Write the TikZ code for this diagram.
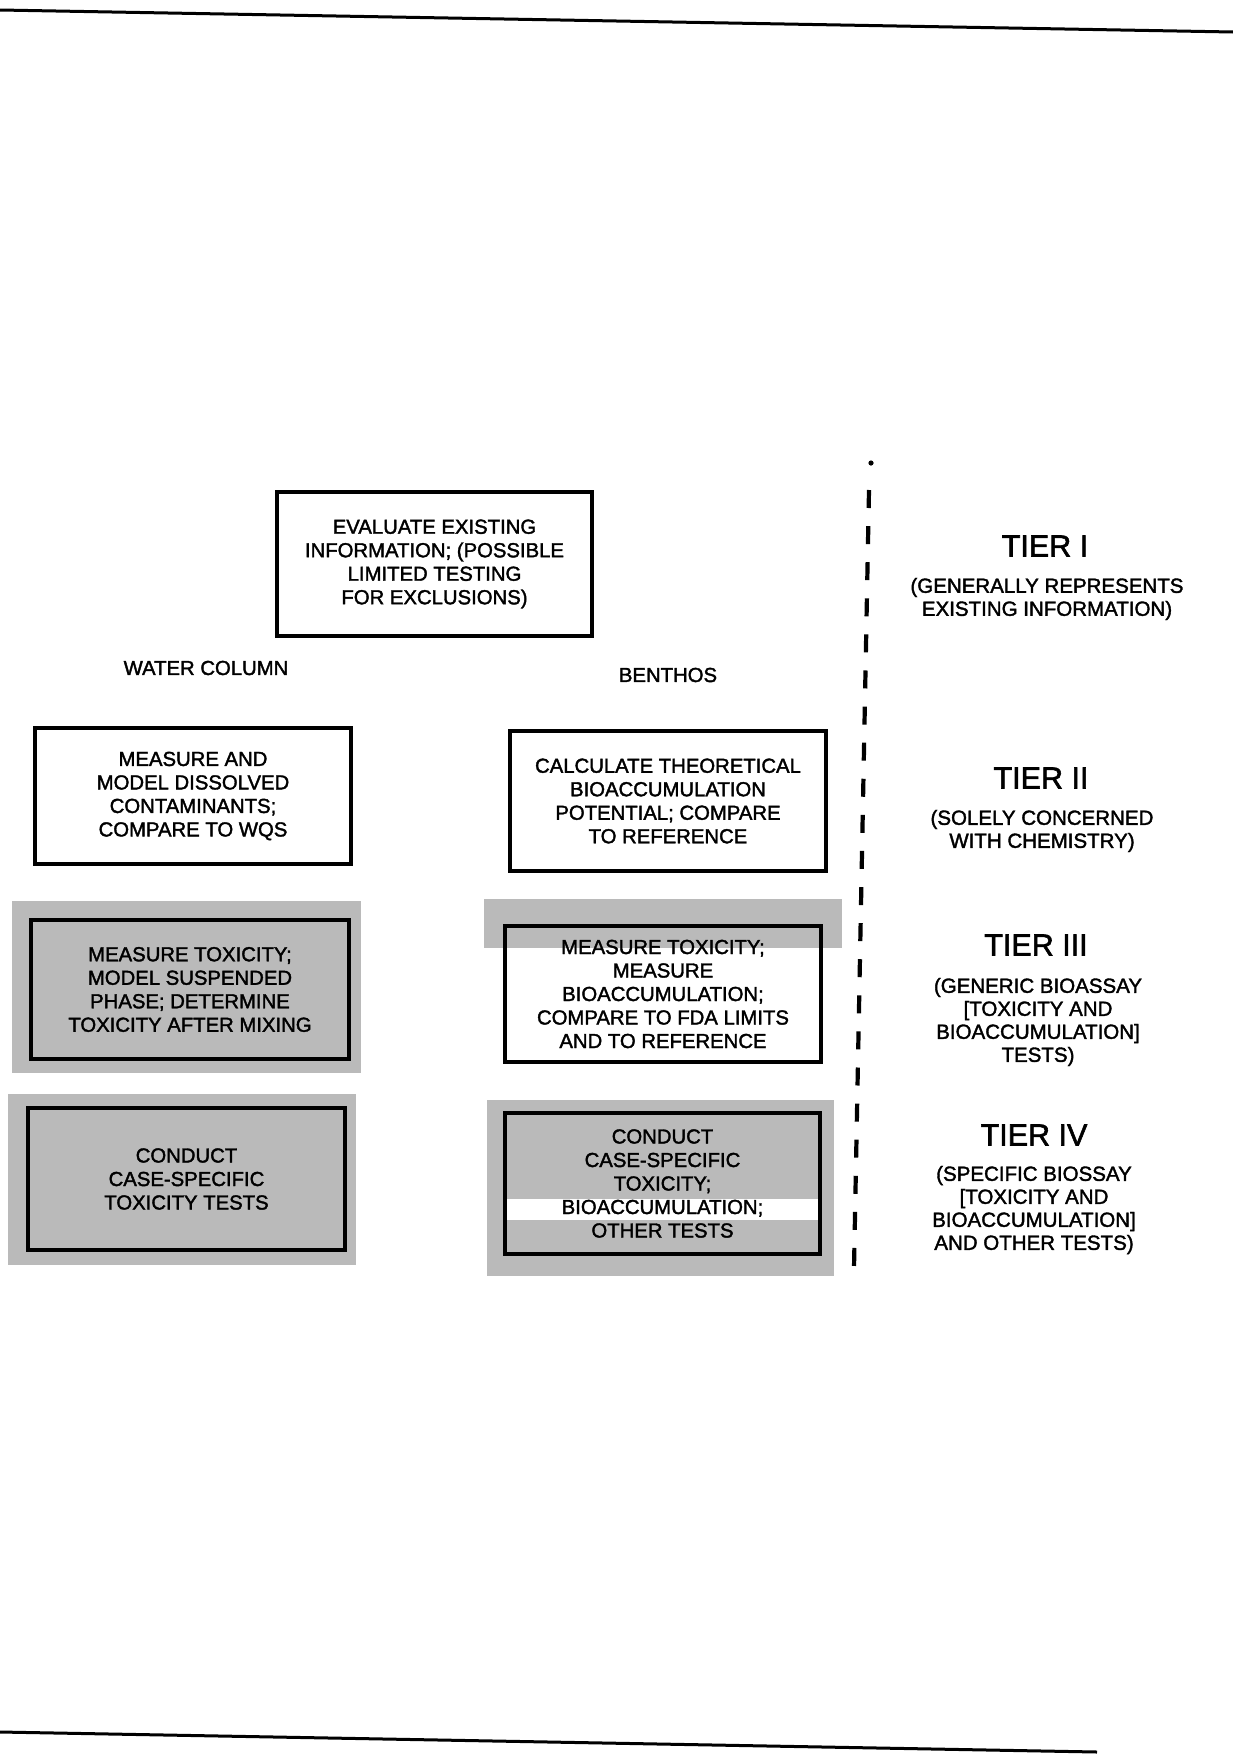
\documentclass[tikz,border=0pt]{standalone}
\usepackage{fontspec}
\setmainfont{Liberation Sans}[FakeBold=1.8]
\definecolor{screen}{rgb}{0.73,0.73,0.73}
\begin{document}
\begin{tikzpicture}[x=1pt,y=-1pt,
  box/.style={draw=black,line width=3.2pt,align=center,inner sep=0pt,
    font=\fontsize{20.3}{23.5}\selectfont,minimum width=316pt},
  tier/.style={font=\fontsize{30.5}{34}\selectfont,inner sep=0pt},
  tierdesc/.style={align=center,inner sep=0pt,font=\fontsize{20.5}{23}\selectfont},
  column/.style={inner sep=0pt,font=\fontsize{20.3}{23.5}\selectfont},
  screenfill/.style={fill=screen,draw=none},
  rule/.style={line width=3pt,black}]
\useasboundingbox (0,0) rectangle (1233,1754);

% page rules
\coordinate (tl) at (0,10);
\coordinate (tr) at (1233,32);
\coordinate (bl) at (0,1732);
\coordinate (br) at (1097,1752);
\draw[rule] (tl) -- (tr);
\draw[rule] (bl) -- (br);

% halftone screens behind tiers III and IV
\fill[screenfill] (12,901) rectangle (361,1073);
\fill[screenfill] (484,899) rectangle (842,948);
\fill[screenfill] (8,1094) rectangle (356,1265);
\fill[screenfill] (487,1100) rectangle (834,1276);
\fill[white] (507,1199) rectangle (819,1220);

% tier I
\node[box,minimum width=315pt,minimum height=144pt] (evaluate) at (434.5,564)
  {EVALUATE EXISTING\\INFORMATION; (POSSIBLE\\LIMITED TESTING\\FOR EXCLUSIONS)};

% column headings
\node[column] (water) at (206,668) {WATER COLUMN};
\node[column] (benthos) at (668,675) {BENTHOS};

% tier II
\node[box,minimum height=136pt] (dissolved) at (193,796)
  {MEASURE AND\\MODEL DISSOLVED\\CONTAMINANTS;\\COMPARE TO WQS};
\node[box,minimum height=140pt] (theoretical) at (668,801)
  {CALCULATE THEORETICAL\\BIOACCUMULATION\\POTENTIAL; COMPARE\\TO REFERENCE};

% tier III
\node[box,minimum width=318pt,minimum height=139pt] (suspended) at (190,989.5)
  {MEASURE TOXICITY;\\MODEL SUSPENDED\\PHASE; DETERMINE\\TOXICITY AFTER MIXING};
\node[box,minimum height=136pt] (fda) at (663,994)
  {MEASURE TOXICITY;\\MEASURE\\BIOACCUMULATION;\\COMPARE TO FDA LIMITS\\AND TO REFERENCE};

% tier IV
\node[box,minimum width=317pt,minimum height=142pt] (casewater) at (186.5,1179)
  {CONDUCT\\CASE-SPECIFIC\\TOXICITY TESTS};
\node[box,minimum width=315pt,minimum height=141pt] (casebenthos) at (662.5,1183.5)
  {CONDUCT\\CASE-SPECIFIC\\TOXICITY;\\BIOACCUMULATION;\\OTHER TESTS};

% dividing line between the flow and the tier legend
\fill (871,463) circle (2.6);
\coordinate (divtop) at (869,490);
\coordinate (divbot) at (854,1268);
\draw[line width=4.2pt,dash pattern=on 18pt off 18.1pt] (divtop) -- (divbot);

% tier legend
\node[tier] (t1) at (1045,546) {TIER I};
\node[tierdesc] (t1d) at (1047,599) {(GENERALLY REPRESENTS\\EXISTING INFORMATION)};
\node[tier] (t2) at (1041,778) {TIER II};
\node[tierdesc] (t2d) at (1042,831) {(SOLELY CONCERNED\\WITH CHEMISTRY)};
\node[tier] (t3) at (1036,945) {TIER III};
\node[tierdesc] (t3d) at (1038,1022) {(GENERIC BIOASSAY\\{[}TOXICITY AND\\BIOACCUMULATION{]}\\TESTS)};
\node[tier] (t4) at (1034,1135) {TIER IV};
\node[tierdesc] (t4d) at (1034,1210) {(SPECIFIC BIOSSAY\\{[}TOXICITY AND\\BIOACCUMULATION{]}\\AND OTHER TESTS)};
\end{tikzpicture}
\end{document}
